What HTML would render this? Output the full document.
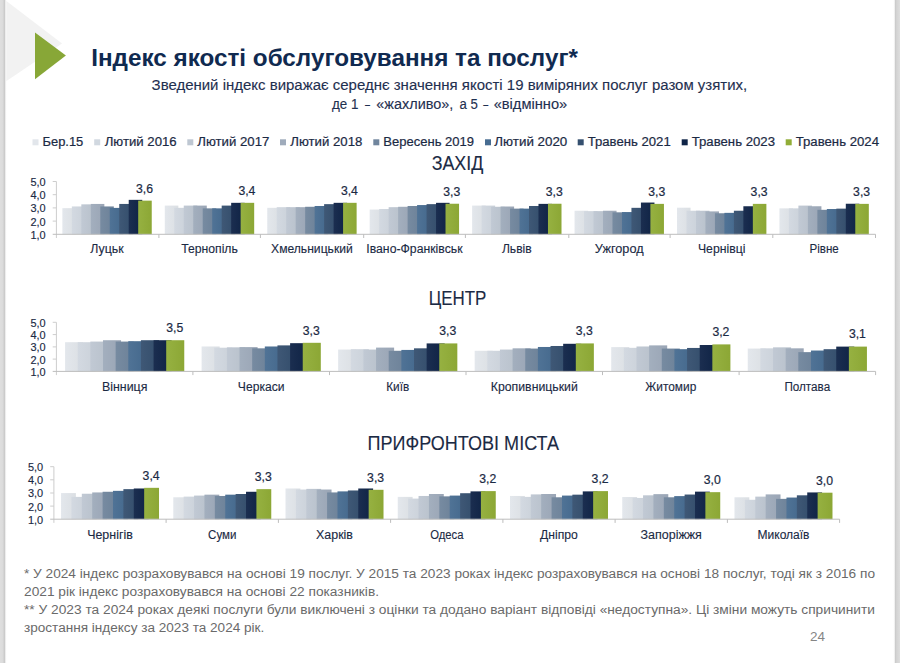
<!DOCTYPE html>
<html lang="uk"><head><meta charset="utf-8"><title>Індекс якості обслуговування та послуг</title>
<style>
html,body{margin:0;padding:0;background:#fff;}
body{width:900px;height:663px;overflow:hidden;position:relative;font-family:"Liberation Sans", sans-serif;}
svg{position:absolute;left:0;top:0;display:block;font-family:"Liberation Sans", sans-serif;}
</style></head><body>
<svg width="900" height="663" viewBox="0 0 900 663">
<defs><linearGradient id="g0" x1="0" x2="1" y1="0" y2="0"><stop offset="0" stop-color="#e3e7ec"/><stop offset="1" stop-color="#dbdfe3"/></linearGradient><linearGradient id="g1" x1="0" x2="1" y1="0" y2="0"><stop offset="0" stop-color="#d3d9e1"/><stop offset="1" stop-color="#cad1d9"/></linearGradient><linearGradient id="g2" x1="0" x2="1" y1="0" y2="0"><stop offset="0" stop-color="#c1c9d4"/><stop offset="1" stop-color="#b8c1cb"/></linearGradient><linearGradient id="g3" x1="0" x2="1" y1="0" y2="0"><stop offset="0" stop-color="#a3afbe"/><stop offset="1" stop-color="#9aa5b5"/></linearGradient><linearGradient id="g4" x1="0" x2="1" y1="0" y2="0"><stop offset="0" stop-color="#778ba1"/><stop offset="1" stop-color="#6c8198"/></linearGradient><linearGradient id="g5" x1="0" x2="1" y1="0" y2="0"><stop offset="0" stop-color="#507396"/><stop offset="1" stop-color="#44688c"/></linearGradient><linearGradient id="g6" x1="0" x2="1" y1="0" y2="0"><stop offset="0" stop-color="#3f5876"/><stop offset="1" stop-color="#334d6b"/></linearGradient><linearGradient id="g7" x1="0" x2="1" y1="0" y2="0"><stop offset="0" stop-color="#1b2e50"/><stop offset="1" stop-color="#0e2244"/></linearGradient><linearGradient id="g8" x1="0" x2="1" y1="0" y2="0"><stop offset="0" stop-color="#96b141"/><stop offset="1" stop-color="#8ca735"/></linearGradient>
<linearGradient id="ls" x1="0" x2="1"><stop offset="0" stop-color="#dfdfdf"/><stop offset="0.4" stop-color="#dbdbdb"/><stop offset="0.62" stop-color="#cbcbcb"/><stop offset="0.72" stop-color="#cccccc"/><stop offset="0.8" stop-color="#f4f4f4"/><stop offset="1" stop-color="#ffffff" stop-opacity="0"/></linearGradient>
<linearGradient id="rs" x1="0" x2="1"><stop offset="0" stop-color="#ffffff" stop-opacity="0"/><stop offset="0.22" stop-color="#f0f0f0"/><stop offset="0.3" stop-color="#c9c9c9"/><stop offset="0.5" stop-color="#d3d3d3"/><stop offset="1" stop-color="#dedede"/></linearGradient>
</defs>
<rect width="900" height="663" fill="#ffffff"/>
<polygon points="5,0 62,43.5 5,82" fill="#f2f2f2"/>
<rect x="0" y="0" width="7" height="663" fill="url(#ls)"/>
<rect x="893" y="0" width="7" height="663" fill="url(#rs)"/>
<polygon points="35,32.4 65.9,55.5 35,79.2" fill="#88a737"/>
<g>
<text x="91.2" y="65.6" font-size="23.5" fill="#102a50" text-anchor="start" font-weight="bold" textLength="486.8" lengthAdjust="spacingAndGlyphs">Індекс якості обслуговування та послуг*</text>
<text x="151.6" y="89.6" font-size="14" fill="#1f3050" text-anchor="start" font-weight="normal" textLength="595.6" lengthAdjust="spacingAndGlyphs" stroke="#1f3050" stroke-width="0.12">Зведений індекс виражає середнє значення якості 19 виміряних послуг разом узятих,</text>
<text y="109.2" font-size="14" fill="#1f3050" stroke="#1f3050" stroke-width="0.12" xml:space="preserve"><tspan x="332.0" textLength="26.4" lengthAdjust="spacingAndGlyphs">де 1</tspan><tspan> </tspan><tspan x="365.0" textLength="5.0" lengthAdjust="spacingAndGlyphs">–</tspan><tspan> </tspan><tspan x="376.3" textLength="77.0" lengthAdjust="spacingAndGlyphs">«жахливо»,</tspan><tspan> </tspan><tspan x="459.5" textLength="18.3" lengthAdjust="spacingAndGlyphs">а 5</tspan><tspan> </tspan><tspan x="483.3" textLength="5.0" lengthAdjust="spacingAndGlyphs">–</tspan><tspan> </tspan><tspan x="493.7" textLength="73.5" lengthAdjust="spacingAndGlyphs">«відмінно»</tspan></text>
<text x="431.7" y="169.6" font-size="19.6" fill="#1b2a44" text-anchor="start" font-weight="normal" textLength="51.6" lengthAdjust="spacingAndGlyphs" stroke="#1b2a44" stroke-width="0.12">ЗАХІД</text>
<text x="428.7" y="305.0" font-size="19.6" fill="#1b2a44" text-anchor="start" font-weight="normal" textLength="57.7" lengthAdjust="spacingAndGlyphs" stroke="#1b2a44" stroke-width="0.12">ЦЕНТР</text>
<text x="367.6" y="450.1" font-size="19.6" fill="#1b2a44" text-anchor="start" font-weight="normal" textLength="191.4" lengthAdjust="spacingAndGlyphs" stroke="#1b2a44" stroke-width="0.12">ПРИФРОНТОВІ МІСТА</text>
<text x="24.0" y="578.3" font-size="12" fill="#6a6a6a" text-anchor="start" font-weight="normal" textLength="851.0" lengthAdjust="spacingAndGlyphs">* У 2024 індекс розраховувався на основі 19 послуг. У 2015 та 2023 роках індекс розраховувався на основі 18 послуг, тоді як з 2016 по</text>
<text x="24.0" y="596.0" font-size="12" fill="#6a6a6a" text-anchor="start" font-weight="normal" textLength="355.0" lengthAdjust="spacingAndGlyphs">2021 рік індекс розраховувався на основі 22 показників.</text>
<text x="24.0" y="614.0" font-size="12" fill="#6a6a6a" text-anchor="start" font-weight="normal" textLength="851.0" lengthAdjust="spacingAndGlyphs">** У 2023 та 2024 роках деякі послуги були виключені з оцінки та додано варіант відповіді «недоступна». Ці зміни можуть спричинити</text>
<text x="24.0" y="631.7" font-size="12" fill="#6a6a6a" text-anchor="start" font-weight="normal" textLength="240.3" lengthAdjust="spacingAndGlyphs">зростання індексу за 2023 та 2024 рік.</text>
<text x="810.0" y="641.0" font-size="13" fill="#858585" text-anchor="start" font-weight="normal" textLength="15.0" lengthAdjust="spacingAndGlyphs">24</text>
</g>
<g>
<rect x="32.5" y="139.3" width="6" height="6" fill="#e2e6eb"/>
<text x="42.5" y="146.4" font-size="12.3" fill="#1b2a44" text-anchor="start" font-weight="normal" textLength="40.8" lengthAdjust="spacingAndGlyphs" stroke="#1b2a44" stroke-width="0.2">Бер.15</text>
<rect x="94.2" y="139.3" width="6" height="6" fill="#d1d8e0"/>
<text x="104.7" y="146.4" font-size="12.3" fill="#1b2a44" text-anchor="start" font-weight="normal" textLength="72.0" lengthAdjust="spacingAndGlyphs" stroke="#1b2a44" stroke-width="0.2">Лютий 2016</text>
<rect x="187.3" y="139.3" width="6" height="6" fill="#bec7d2"/>
<text x="197.3" y="146.4" font-size="12.3" fill="#1b2a44" text-anchor="start" font-weight="normal" textLength="72.0" lengthAdjust="spacingAndGlyphs" stroke="#1b2a44" stroke-width="0.2">Лютий 2017</text>
<rect x="280.0" y="139.3" width="6" height="6" fill="#9fabbb"/>
<text x="290.3" y="146.4" font-size="12.3" fill="#1b2a44" text-anchor="start" font-weight="normal" textLength="72.0" lengthAdjust="spacingAndGlyphs" stroke="#1b2a44" stroke-width="0.2">Лютий 2018</text>
<rect x="373.3" y="139.3" width="6" height="6" fill="#70859d"/>
<text x="383.3" y="146.4" font-size="12.3" fill="#1b2a44" text-anchor="start" font-weight="normal" textLength="90.7" lengthAdjust="spacingAndGlyphs" stroke="#1b2a44" stroke-width="0.2">Вересень 2019</text>
<rect x="485.0" y="139.3" width="6" height="6" fill="#476c91"/>
<text x="494.3" y="146.4" font-size="12.3" fill="#1b2a44" text-anchor="start" font-weight="normal" textLength="73.0" lengthAdjust="spacingAndGlyphs" stroke="#1b2a44" stroke-width="0.2">Лютий 2020</text>
<rect x="577.7" y="139.3" width="6" height="6" fill="#35506f"/>
<text x="587.7" y="146.4" font-size="12.3" fill="#1b2a44" text-anchor="start" font-weight="normal" textLength="83.0" lengthAdjust="spacingAndGlyphs" stroke="#1b2a44" stroke-width="0.2">Травень 2021</text>
<rect x="681.7" y="139.3" width="6" height="6" fill="#0f2447"/>
<text x="691.7" y="146.4" font-size="12.3" fill="#1b2a44" text-anchor="start" font-weight="normal" textLength="83.3" lengthAdjust="spacingAndGlyphs" stroke="#1b2a44" stroke-width="0.2">Травень 2023</text>
<rect x="785.7" y="139.3" width="6" height="6" fill="#91ad37"/>
<text x="795.7" y="146.4" font-size="12.3" fill="#1b2a44" text-anchor="start" font-weight="normal" textLength="83.3" lengthAdjust="spacingAndGlyphs" stroke="#1b2a44" stroke-width="0.2">Травень 2024</text>
</g>
<g>
<rect x="62.36" y="208.16" width="13.54" height="26.14" fill="url(#g0)"/>
<rect x="71.84" y="206.45" width="13.54" height="27.85" fill="url(#g1)"/>
<rect x="81.32" y="204.34" width="13.54" height="29.96" fill="url(#g2)"/>
<rect x="90.80" y="203.94" width="13.54" height="30.36" fill="url(#g3)"/>
<rect x="100.28" y="206.45" width="13.54" height="27.85" fill="url(#g4)"/>
<rect x="109.76" y="207.90" width="13.54" height="26.40" fill="url(#g5)"/>
<rect x="119.24" y="203.94" width="13.54" height="30.36" fill="url(#g6)"/>
<rect x="128.72" y="199.85" width="13.54" height="34.45" fill="url(#g7)"/>
<rect x="138.20" y="200.64" width="13.54" height="33.66" fill="url(#g8)"/>
<text x="144.5" y="193.0" font-size="12" fill="#1b2a44" text-anchor="middle" font-weight="normal" textLength="17.0" lengthAdjust="spacingAndGlyphs" stroke="#1b2a44" stroke-width="0.2">3,6</text>
<text x="107.0" y="253.3" font-size="12" fill="#1b2a44" text-anchor="middle" font-weight="normal" textLength="33.3" lengthAdjust="spacingAndGlyphs" stroke="#1b2a44" stroke-width="0.12">Луцьк</text>
<rect x="164.80" y="205.59" width="13.54" height="28.71" fill="url(#g0)"/>
<rect x="174.28" y="207.83" width="13.54" height="26.47" fill="url(#g1)"/>
<rect x="183.76" y="205.59" width="13.54" height="28.71" fill="url(#g2)"/>
<rect x="193.24" y="205.59" width="13.54" height="28.71" fill="url(#g3)"/>
<rect x="202.72" y="208.36" width="13.54" height="25.94" fill="url(#g4)"/>
<rect x="212.20" y="208.36" width="13.54" height="25.94" fill="url(#g5)"/>
<rect x="221.68" y="205.59" width="13.54" height="28.71" fill="url(#g6)"/>
<rect x="231.16" y="202.82" width="13.54" height="31.48" fill="url(#g7)"/>
<rect x="240.64" y="202.82" width="13.54" height="31.48" fill="url(#g8)"/>
<text x="246.9" y="195.2" font-size="12" fill="#1b2a44" text-anchor="middle" font-weight="normal" textLength="17.0" lengthAdjust="spacingAndGlyphs" stroke="#1b2a44" stroke-width="0.2">3,4</text>
<text x="209.5" y="253.3" font-size="12" fill="#1b2a44" text-anchor="middle" font-weight="normal" textLength="56.7" lengthAdjust="spacingAndGlyphs" stroke="#1b2a44" stroke-width="0.12">Тернопіль</text>
<rect x="267.24" y="207.83" width="13.54" height="26.47" fill="url(#g0)"/>
<rect x="276.72" y="207.17" width="13.54" height="27.13" fill="url(#g1)"/>
<rect x="286.20" y="207.17" width="13.54" height="27.13" fill="url(#g2)"/>
<rect x="295.68" y="207.17" width="13.54" height="27.13" fill="url(#g3)"/>
<rect x="305.16" y="206.78" width="13.54" height="27.52" fill="url(#g4)"/>
<rect x="314.64" y="205.99" width="13.54" height="28.31" fill="url(#g5)"/>
<rect x="324.12" y="204.14" width="13.54" height="30.16" fill="url(#g6)"/>
<rect x="333.60" y="202.82" width="13.54" height="31.48" fill="url(#g7)"/>
<rect x="343.08" y="202.82" width="13.54" height="31.48" fill="url(#g8)"/>
<text x="349.4" y="195.2" font-size="12" fill="#1b2a44" text-anchor="middle" font-weight="normal" textLength="17.0" lengthAdjust="spacingAndGlyphs" stroke="#1b2a44" stroke-width="0.2">3,4</text>
<text x="311.9" y="253.3" font-size="12" fill="#1b2a44" text-anchor="middle" font-weight="normal" textLength="81.7" lengthAdjust="spacingAndGlyphs" stroke="#1b2a44" stroke-width="0.12">Хмельницький</text>
<rect x="369.68" y="209.55" width="13.54" height="24.75" fill="url(#g0)"/>
<rect x="379.16" y="209.02" width="13.54" height="25.28" fill="url(#g1)"/>
<rect x="388.64" y="207.17" width="13.54" height="27.13" fill="url(#g2)"/>
<rect x="398.12" y="206.78" width="13.54" height="27.52" fill="url(#g3)"/>
<rect x="407.60" y="205.99" width="13.54" height="28.31" fill="url(#g4)"/>
<rect x="417.08" y="205.06" width="13.54" height="29.24" fill="url(#g5)"/>
<rect x="426.56" y="204.14" width="13.54" height="30.16" fill="url(#g6)"/>
<rect x="436.04" y="202.82" width="13.54" height="31.48" fill="url(#g7)"/>
<rect x="445.52" y="203.74" width="13.54" height="30.56" fill="url(#g8)"/>
<text x="451.8" y="196.1" font-size="12" fill="#1b2a44" text-anchor="middle" font-weight="normal" textLength="17.0" lengthAdjust="spacingAndGlyphs" stroke="#1b2a44" stroke-width="0.2">3,3</text>
<text x="414.4" y="253.3" font-size="12" fill="#1b2a44" text-anchor="middle" font-weight="normal" textLength="96.2" lengthAdjust="spacingAndGlyphs" stroke="#1b2a44" stroke-width="0.12">Івано-Франківськ</text>
<rect x="472.12" y="205.59" width="13.54" height="28.71" fill="url(#g0)"/>
<rect x="481.60" y="205.59" width="13.54" height="28.71" fill="url(#g1)"/>
<rect x="491.08" y="206.78" width="13.54" height="27.52" fill="url(#g2)"/>
<rect x="500.56" y="206.51" width="13.54" height="27.79" fill="url(#g3)"/>
<rect x="510.04" y="208.63" width="13.54" height="25.67" fill="url(#g4)"/>
<rect x="519.52" y="208.63" width="13.54" height="25.67" fill="url(#g5)"/>
<rect x="529.00" y="205.99" width="13.54" height="28.31" fill="url(#g6)"/>
<rect x="538.48" y="203.87" width="13.54" height="30.43" fill="url(#g7)"/>
<rect x="547.96" y="203.74" width="13.54" height="30.56" fill="url(#g8)"/>
<text x="554.2" y="196.1" font-size="12" fill="#1b2a44" text-anchor="middle" font-weight="normal" textLength="17.0" lengthAdjust="spacingAndGlyphs" stroke="#1b2a44" stroke-width="0.2">3,3</text>
<text x="516.8" y="253.3" font-size="12" fill="#1b2a44" text-anchor="middle" font-weight="normal" textLength="29.8" lengthAdjust="spacingAndGlyphs" stroke="#1b2a44" stroke-width="0.12">Львів</text>
<rect x="574.56" y="210.74" width="13.54" height="23.56" fill="url(#g0)"/>
<rect x="584.04" y="211.13" width="13.54" height="23.17" fill="url(#g1)"/>
<rect x="593.52" y="211.13" width="13.54" height="23.17" fill="url(#g2)"/>
<rect x="603.00" y="210.74" width="13.54" height="23.56" fill="url(#g3)"/>
<rect x="612.48" y="212.32" width="13.54" height="21.98" fill="url(#g4)"/>
<rect x="621.96" y="212.06" width="13.54" height="22.24" fill="url(#g5)"/>
<rect x="631.44" y="207.83" width="13.54" height="26.47" fill="url(#g6)"/>
<rect x="640.92" y="202.55" width="13.54" height="31.75" fill="url(#g7)"/>
<rect x="650.40" y="203.87" width="13.54" height="30.43" fill="url(#g8)"/>
<text x="656.7" y="196.3" font-size="12" fill="#1b2a44" text-anchor="middle" font-weight="normal" textLength="17.0" lengthAdjust="spacingAndGlyphs" stroke="#1b2a44" stroke-width="0.2">3,3</text>
<text x="619.2" y="253.3" font-size="12" fill="#1b2a44" text-anchor="middle" font-weight="normal" textLength="48.8" lengthAdjust="spacingAndGlyphs" stroke="#1b2a44" stroke-width="0.12">Ужгород</text>
<rect x="677.00" y="207.70" width="13.54" height="26.60" fill="url(#g0)"/>
<rect x="686.48" y="210.74" width="13.54" height="23.56" fill="url(#g1)"/>
<rect x="695.96" y="210.74" width="13.54" height="23.56" fill="url(#g2)"/>
<rect x="705.44" y="211.40" width="13.54" height="22.90" fill="url(#g3)"/>
<rect x="714.92" y="213.25" width="13.54" height="21.05" fill="url(#g4)"/>
<rect x="724.40" y="212.85" width="13.54" height="21.45" fill="url(#g5)"/>
<rect x="733.88" y="210.74" width="13.54" height="23.56" fill="url(#g6)"/>
<rect x="743.36" y="206.25" width="13.54" height="28.05" fill="url(#g7)"/>
<rect x="752.84" y="203.87" width="13.54" height="30.43" fill="url(#g8)"/>
<text x="759.1" y="196.3" font-size="12" fill="#1b2a44" text-anchor="middle" font-weight="normal" textLength="17.0" lengthAdjust="spacingAndGlyphs" stroke="#1b2a44" stroke-width="0.2">3,3</text>
<text x="721.7" y="253.3" font-size="12" fill="#1b2a44" text-anchor="middle" font-weight="normal" textLength="47.5" lengthAdjust="spacingAndGlyphs" stroke="#1b2a44" stroke-width="0.12">Чернівці</text>
<rect x="779.44" y="208.36" width="13.54" height="25.94" fill="url(#g0)"/>
<rect x="788.92" y="208.36" width="13.54" height="25.94" fill="url(#g1)"/>
<rect x="798.40" y="205.59" width="13.54" height="28.71" fill="url(#g2)"/>
<rect x="807.88" y="206.25" width="13.54" height="28.05" fill="url(#g3)"/>
<rect x="817.36" y="209.81" width="13.54" height="24.49" fill="url(#g4)"/>
<rect x="826.84" y="209.02" width="13.54" height="25.28" fill="url(#g5)"/>
<rect x="836.32" y="208.63" width="13.54" height="25.67" fill="url(#g6)"/>
<rect x="845.80" y="203.74" width="13.54" height="30.56" fill="url(#g7)"/>
<rect x="855.28" y="203.87" width="13.54" height="30.43" fill="url(#g8)"/>
<text x="861.6" y="196.3" font-size="12" fill="#1b2a44" text-anchor="middle" font-weight="normal" textLength="17.0" lengthAdjust="spacingAndGlyphs" stroke="#1b2a44" stroke-width="0.2">3,3</text>
<text x="824.1" y="253.3" font-size="12" fill="#1b2a44" text-anchor="middle" font-weight="normal" textLength="29.3" lengthAdjust="spacingAndGlyphs" stroke="#1b2a44" stroke-width="0.12">Рівне</text>
<path d="M56.4 181.5V238.0M52.7 181.5H56.4M52.7 194.7H56.4M52.7 207.9H56.4M52.7 221.1H56.4" stroke="#cdcdcd" stroke-width="1" fill="none"/>
<path d="M52.7 234.3H875.5M158.9 234.3v3.7M260.4 234.3v3.7M363.7 234.3v3.7M465.4 234.3v3.7M568.8 234.3v3.7M670.1 234.3v3.7M772.8 234.3v3.7M875.5 234.3v3.7" stroke="#bdbdbd" stroke-width="1" fill="none"/>
<text x="45.7" y="185.9" font-size="11" fill="#1b2a44" text-anchor="end" font-weight="normal" textLength="15.2" lengthAdjust="spacingAndGlyphs" stroke="#1b2a44" stroke-width="0.15">5,0</text>
<text x="45.7" y="199.1" font-size="11" fill="#1b2a44" text-anchor="end" font-weight="normal" textLength="15.2" lengthAdjust="spacingAndGlyphs" stroke="#1b2a44" stroke-width="0.15">4,0</text>
<text x="45.7" y="212.3" font-size="11" fill="#1b2a44" text-anchor="end" font-weight="normal" textLength="15.2" lengthAdjust="spacingAndGlyphs" stroke="#1b2a44" stroke-width="0.15">3,0</text>
<text x="45.7" y="225.5" font-size="11" fill="#1b2a44" text-anchor="end" font-weight="normal" textLength="15.2" lengthAdjust="spacingAndGlyphs" stroke="#1b2a44" stroke-width="0.15">2,0</text>
<text x="45.7" y="238.7" font-size="11" fill="#1b2a44" text-anchor="end" font-weight="normal" textLength="15.2" lengthAdjust="spacingAndGlyphs" stroke="#1b2a44" stroke-width="0.15">1,0</text>
<rect x="65.07" y="342.19" width="18.06" height="29.21" fill="url(#g0)"/>
<rect x="77.71" y="342.19" width="18.06" height="29.21" fill="url(#g1)"/>
<rect x="90.35" y="341.57" width="18.06" height="29.83" fill="url(#g2)"/>
<rect x="102.99" y="340.22" width="18.06" height="31.18" fill="url(#g3)"/>
<rect x="115.64" y="341.57" width="18.06" height="29.83" fill="url(#g4)"/>
<rect x="128.28" y="341.20" width="18.06" height="30.20" fill="url(#g5)"/>
<rect x="140.92" y="340.22" width="18.06" height="31.18" fill="url(#g6)"/>
<rect x="153.56" y="340.22" width="18.06" height="31.18" fill="url(#g7)"/>
<rect x="166.20" y="340.22" width="18.06" height="31.18" fill="url(#g8)"/>
<text x="174.7" y="332.0" font-size="12" fill="#1b2a44" text-anchor="middle" font-weight="normal" textLength="17.0" lengthAdjust="spacingAndGlyphs" stroke="#1b2a44" stroke-width="0.2">3,5</text>
<text x="124.7" y="391.1" font-size="12" fill="#1b2a44" text-anchor="middle" font-weight="normal" textLength="45.4" lengthAdjust="spacingAndGlyphs" stroke="#1b2a44" stroke-width="0.12">Вінниця</text>
<rect x="201.60" y="346.48" width="18.06" height="24.92" fill="url(#g0)"/>
<rect x="214.24" y="347.71" width="18.06" height="23.69" fill="url(#g1)"/>
<rect x="226.89" y="347.34" width="18.06" height="24.06" fill="url(#g2)"/>
<rect x="239.53" y="347.10" width="18.06" height="24.30" fill="url(#g3)"/>
<rect x="252.17" y="348.32" width="18.06" height="23.08" fill="url(#g4)"/>
<rect x="264.81" y="346.48" width="18.06" height="24.92" fill="url(#g5)"/>
<rect x="277.45" y="345.38" width="18.06" height="26.02" fill="url(#g6)"/>
<rect x="290.10" y="343.17" width="18.06" height="28.23" fill="url(#g7)"/>
<rect x="302.74" y="342.80" width="18.06" height="28.60" fill="url(#g8)"/>
<text x="311.3" y="334.6" font-size="12" fill="#1b2a44" text-anchor="middle" font-weight="normal" textLength="17.0" lengthAdjust="spacingAndGlyphs" stroke="#1b2a44" stroke-width="0.2">3,3</text>
<text x="261.2" y="391.1" font-size="12" fill="#1b2a44" text-anchor="middle" font-weight="normal" textLength="46.7" lengthAdjust="spacingAndGlyphs" stroke="#1b2a44" stroke-width="0.12">Черкаси</text>
<rect x="338.14" y="349.55" width="18.06" height="21.85" fill="url(#g0)"/>
<rect x="350.78" y="349.18" width="18.06" height="22.22" fill="url(#g1)"/>
<rect x="363.42" y="349.55" width="18.06" height="21.85" fill="url(#g2)"/>
<rect x="376.06" y="347.59" width="18.06" height="23.81" fill="url(#g3)"/>
<rect x="388.70" y="350.78" width="18.06" height="20.62" fill="url(#g4)"/>
<rect x="401.35" y="349.92" width="18.06" height="21.48" fill="url(#g5)"/>
<rect x="413.99" y="348.32" width="18.06" height="23.08" fill="url(#g6)"/>
<rect x="426.63" y="343.41" width="18.06" height="27.99" fill="url(#g7)"/>
<rect x="439.27" y="343.41" width="18.06" height="27.99" fill="url(#g8)"/>
<text x="447.8" y="335.2" font-size="12" fill="#1b2a44" text-anchor="middle" font-weight="normal" textLength="17.0" lengthAdjust="spacingAndGlyphs" stroke="#1b2a44" stroke-width="0.2">3,3</text>
<text x="397.7" y="391.1" font-size="12" fill="#1b2a44" text-anchor="middle" font-weight="normal" textLength="23.0" lengthAdjust="spacingAndGlyphs" stroke="#1b2a44" stroke-width="0.12">Київ</text>
<rect x="474.67" y="350.78" width="18.06" height="20.62" fill="url(#g0)"/>
<rect x="487.31" y="350.78" width="18.06" height="20.62" fill="url(#g1)"/>
<rect x="499.95" y="349.55" width="18.06" height="21.85" fill="url(#g2)"/>
<rect x="512.59" y="348.32" width="18.06" height="23.08" fill="url(#g3)"/>
<rect x="525.24" y="348.57" width="18.06" height="22.83" fill="url(#g4)"/>
<rect x="537.88" y="346.97" width="18.06" height="24.43" fill="url(#g5)"/>
<rect x="550.52" y="345.99" width="18.06" height="25.41" fill="url(#g6)"/>
<rect x="563.16" y="343.78" width="18.06" height="27.62" fill="url(#g7)"/>
<rect x="575.80" y="343.41" width="18.06" height="27.99" fill="url(#g8)"/>
<text x="584.3" y="335.2" font-size="12" fill="#1b2a44" text-anchor="middle" font-weight="normal" textLength="17.0" lengthAdjust="spacingAndGlyphs" stroke="#1b2a44" stroke-width="0.2">3,3</text>
<text x="534.3" y="391.1" font-size="12" fill="#1b2a44" text-anchor="middle" font-weight="normal" textLength="87.0" lengthAdjust="spacingAndGlyphs" stroke="#1b2a44" stroke-width="0.12">Кропивницький</text>
<rect x="611.20" y="347.10" width="18.06" height="24.30" fill="url(#g0)"/>
<rect x="623.84" y="347.83" width="18.06" height="23.57" fill="url(#g1)"/>
<rect x="636.49" y="346.48" width="18.06" height="24.92" fill="url(#g2)"/>
<rect x="649.13" y="345.38" width="18.06" height="26.02" fill="url(#g3)"/>
<rect x="661.77" y="348.57" width="18.06" height="22.83" fill="url(#g4)"/>
<rect x="674.41" y="349.18" width="18.06" height="22.22" fill="url(#g5)"/>
<rect x="687.05" y="347.95" width="18.06" height="23.45" fill="url(#g6)"/>
<rect x="699.70" y="345.01" width="18.06" height="26.39" fill="url(#g7)"/>
<rect x="712.34" y="344.39" width="18.06" height="27.00" fill="url(#g8)"/>
<text x="720.9" y="336.2" font-size="12" fill="#1b2a44" text-anchor="middle" font-weight="normal" textLength="17.0" lengthAdjust="spacingAndGlyphs" stroke="#1b2a44" stroke-width="0.2">3,2</text>
<text x="670.8" y="391.1" font-size="12" fill="#1b2a44" text-anchor="middle" font-weight="normal" textLength="51.0" lengthAdjust="spacingAndGlyphs" stroke="#1b2a44" stroke-width="0.12">Житомир</text>
<rect x="747.74" y="348.57" width="18.06" height="22.83" fill="url(#g0)"/>
<rect x="760.38" y="348.32" width="18.06" height="23.08" fill="url(#g1)"/>
<rect x="773.02" y="347.34" width="18.06" height="24.06" fill="url(#g2)"/>
<rect x="785.66" y="348.32" width="18.06" height="23.08" fill="url(#g3)"/>
<rect x="798.30" y="352.13" width="18.06" height="19.27" fill="url(#g4)"/>
<rect x="810.95" y="350.53" width="18.06" height="20.87" fill="url(#g5)"/>
<rect x="823.59" y="349.18" width="18.06" height="22.22" fill="url(#g6)"/>
<rect x="836.23" y="346.60" width="18.06" height="24.80" fill="url(#g7)"/>
<rect x="848.87" y="346.60" width="18.06" height="24.80" fill="url(#g8)"/>
<text x="857.4" y="338.4" font-size="12" fill="#1b2a44" text-anchor="middle" font-weight="normal" textLength="17.0" lengthAdjust="spacingAndGlyphs" stroke="#1b2a44" stroke-width="0.2">3,1</text>
<text x="807.3" y="391.1" font-size="12" fill="#1b2a44" text-anchor="middle" font-weight="normal" textLength="45.8" lengthAdjust="spacingAndGlyphs" stroke="#1b2a44" stroke-width="0.12">Полтава</text>
<path d="M56.4 322.3V375.1M52.7 322.3H56.4M52.7 334.6H56.4M52.7 346.9H56.4M52.7 359.1H56.4" stroke="#cdcdcd" stroke-width="1" fill="none"/>
<path d="M52.7 371.4H875.6M192.9 371.4v3.7M329.5 371.4v3.7M466.0 371.4v3.7M602.5 371.4v3.7M739.1 371.4v3.7M875.6 371.4v3.7" stroke="#bdbdbd" stroke-width="1" fill="none"/>
<text x="45.7" y="326.7" font-size="11" fill="#1b2a44" text-anchor="end" font-weight="normal" textLength="15.2" lengthAdjust="spacingAndGlyphs" stroke="#1b2a44" stroke-width="0.15">5,0</text>
<text x="45.7" y="339.0" font-size="11" fill="#1b2a44" text-anchor="end" font-weight="normal" textLength="15.2" lengthAdjust="spacingAndGlyphs" stroke="#1b2a44" stroke-width="0.15">4,0</text>
<text x="45.7" y="351.2" font-size="11" fill="#1b2a44" text-anchor="end" font-weight="normal" textLength="15.2" lengthAdjust="spacingAndGlyphs" stroke="#1b2a44" stroke-width="0.15">3,0</text>
<text x="45.7" y="363.5" font-size="11" fill="#1b2a44" text-anchor="end" font-weight="normal" textLength="15.2" lengthAdjust="spacingAndGlyphs" stroke="#1b2a44" stroke-width="0.15">2,0</text>
<text x="45.7" y="375.8" font-size="11" fill="#1b2a44" text-anchor="end" font-weight="normal" textLength="15.2" lengthAdjust="spacingAndGlyphs" stroke="#1b2a44" stroke-width="0.15">1,0</text>
<rect x="61.03" y="493.08" width="14.85" height="26.12" fill="url(#g0)"/>
<rect x="71.42" y="496.89" width="14.85" height="22.31" fill="url(#g1)"/>
<rect x="81.81" y="493.74" width="14.85" height="25.46" fill="url(#g2)"/>
<rect x="92.21" y="492.43" width="14.85" height="26.78" fill="url(#g3)"/>
<rect x="102.60" y="491.77" width="14.85" height="27.43" fill="url(#g4)"/>
<rect x="112.99" y="490.85" width="14.85" height="28.35" fill="url(#g5)"/>
<rect x="123.38" y="489.14" width="14.85" height="30.06" fill="url(#g6)"/>
<rect x="133.78" y="488.49" width="14.85" height="30.71" fill="url(#g7)"/>
<rect x="144.17" y="487.83" width="14.85" height="31.37" fill="url(#g8)"/>
<text x="151.1" y="479.9" font-size="12" fill="#1b2a44" text-anchor="middle" font-weight="normal" textLength="17.0" lengthAdjust="spacingAndGlyphs" stroke="#1b2a44" stroke-width="0.2">3,4</text>
<text x="110.0" y="538.7" font-size="12" fill="#1b2a44" text-anchor="middle" font-weight="normal" textLength="45.7" lengthAdjust="spacingAndGlyphs" stroke="#1b2a44" stroke-width="0.12">Чернігів</text>
<rect x="173.27" y="497.28" width="14.85" height="21.92" fill="url(#g0)"/>
<rect x="183.66" y="496.62" width="14.85" height="22.58" fill="url(#g1)"/>
<rect x="194.06" y="495.58" width="14.85" height="23.63" fill="url(#g2)"/>
<rect x="204.45" y="494.66" width="14.85" height="24.54" fill="url(#g3)"/>
<rect x="214.84" y="495.97" width="14.85" height="23.23" fill="url(#g4)"/>
<rect x="225.23" y="494.66" width="14.85" height="24.54" fill="url(#g5)"/>
<rect x="235.63" y="494.00" width="14.85" height="25.20" fill="url(#g6)"/>
<rect x="246.02" y="491.77" width="14.85" height="27.43" fill="url(#g7)"/>
<rect x="256.41" y="489.14" width="14.85" height="30.06" fill="url(#g8)"/>
<text x="263.3" y="481.2" font-size="12" fill="#1b2a44" text-anchor="middle" font-weight="normal" textLength="17.0" lengthAdjust="spacingAndGlyphs" stroke="#1b2a44" stroke-width="0.2">3,3</text>
<text x="222.3" y="538.7" font-size="12" fill="#1b2a44" text-anchor="middle" font-weight="normal" textLength="28.4" lengthAdjust="spacingAndGlyphs" stroke="#1b2a44" stroke-width="0.12">Суми</text>
<rect x="285.51" y="488.49" width="14.85" height="30.71" fill="url(#g0)"/>
<rect x="295.91" y="489.54" width="14.85" height="29.66" fill="url(#g1)"/>
<rect x="306.30" y="488.88" width="14.85" height="30.32" fill="url(#g2)"/>
<rect x="316.69" y="489.54" width="14.85" height="29.66" fill="url(#g3)"/>
<rect x="327.08" y="492.43" width="14.85" height="26.78" fill="url(#g4)"/>
<rect x="337.48" y="491.38" width="14.85" height="27.83" fill="url(#g5)"/>
<rect x="347.87" y="490.46" width="14.85" height="28.74" fill="url(#g6)"/>
<rect x="358.26" y="488.49" width="14.85" height="30.71" fill="url(#g7)"/>
<rect x="368.66" y="489.80" width="14.85" height="29.40" fill="url(#g8)"/>
<text x="375.6" y="481.9" font-size="12" fill="#1b2a44" text-anchor="middle" font-weight="normal" textLength="17.0" lengthAdjust="spacingAndGlyphs" stroke="#1b2a44" stroke-width="0.2">3,3</text>
<text x="334.5" y="538.7" font-size="12" fill="#1b2a44" text-anchor="middle" font-weight="normal" textLength="36.9" lengthAdjust="spacingAndGlyphs" stroke="#1b2a44" stroke-width="0.12">Харків</text>
<rect x="397.76" y="496.89" width="14.85" height="22.31" fill="url(#g0)"/>
<rect x="408.15" y="498.59" width="14.85" height="20.61" fill="url(#g1)"/>
<rect x="418.54" y="495.97" width="14.85" height="23.23" fill="url(#g2)"/>
<rect x="428.93" y="494.00" width="14.85" height="25.20" fill="url(#g3)"/>
<rect x="439.33" y="496.36" width="14.85" height="22.84" fill="url(#g4)"/>
<rect x="449.72" y="495.58" width="14.85" height="23.63" fill="url(#g5)"/>
<rect x="460.11" y="493.21" width="14.85" height="25.99" fill="url(#g6)"/>
<rect x="470.51" y="491.38" width="14.85" height="27.83" fill="url(#g7)"/>
<rect x="480.90" y="491.11" width="14.85" height="28.09" fill="url(#g8)"/>
<text x="487.8" y="483.2" font-size="12" fill="#1b2a44" text-anchor="middle" font-weight="normal" textLength="17.0" lengthAdjust="spacingAndGlyphs" stroke="#1b2a44" stroke-width="0.2">3,2</text>
<text x="446.8" y="538.7" font-size="12" fill="#1b2a44" text-anchor="middle" font-weight="normal" textLength="33.3" lengthAdjust="spacingAndGlyphs" stroke="#1b2a44" stroke-width="0.12">Одеса</text>
<rect x="510.00" y="495.97" width="14.85" height="23.23" fill="url(#g0)"/>
<rect x="520.39" y="496.89" width="14.85" height="22.31" fill="url(#g1)"/>
<rect x="530.78" y="494.39" width="14.85" height="24.81" fill="url(#g2)"/>
<rect x="541.18" y="494.00" width="14.85" height="25.20" fill="url(#g3)"/>
<rect x="551.57" y="497.28" width="14.85" height="21.92" fill="url(#g4)"/>
<rect x="561.96" y="495.58" width="14.85" height="23.63" fill="url(#g5)"/>
<rect x="572.36" y="494.66" width="14.85" height="24.54" fill="url(#g6)"/>
<rect x="582.75" y="491.38" width="14.85" height="27.83" fill="url(#g7)"/>
<rect x="593.14" y="491.11" width="14.85" height="28.09" fill="url(#g8)"/>
<text x="600.1" y="483.2" font-size="12" fill="#1b2a44" text-anchor="middle" font-weight="normal" textLength="17.0" lengthAdjust="spacingAndGlyphs" stroke="#1b2a44" stroke-width="0.2">3,2</text>
<text x="559.0" y="538.7" font-size="12" fill="#1b2a44" text-anchor="middle" font-weight="normal" textLength="37.8" lengthAdjust="spacingAndGlyphs" stroke="#1b2a44" stroke-width="0.12">Дніпро</text>
<rect x="622.24" y="497.02" width="14.85" height="22.18" fill="url(#g0)"/>
<rect x="632.63" y="497.94" width="14.85" height="21.26" fill="url(#g1)"/>
<rect x="643.03" y="495.31" width="14.85" height="23.89" fill="url(#g2)"/>
<rect x="653.42" y="494.13" width="14.85" height="25.07" fill="url(#g3)"/>
<rect x="663.81" y="497.28" width="14.85" height="21.92" fill="url(#g4)"/>
<rect x="674.21" y="496.10" width="14.85" height="23.10" fill="url(#g5)"/>
<rect x="684.60" y="494.53" width="14.85" height="24.68" fill="url(#g6)"/>
<rect x="694.99" y="491.64" width="14.85" height="27.56" fill="url(#g7)"/>
<rect x="705.38" y="492.16" width="14.85" height="27.04" fill="url(#g8)"/>
<text x="712.3" y="484.3" font-size="12" fill="#1b2a44" text-anchor="middle" font-weight="normal" textLength="17.0" lengthAdjust="spacingAndGlyphs" stroke="#1b2a44" stroke-width="0.2">3,0</text>
<text x="671.2" y="538.7" font-size="12" fill="#1b2a44" text-anchor="middle" font-weight="normal" textLength="61.3" lengthAdjust="spacingAndGlyphs" stroke="#1b2a44" stroke-width="0.12">Запоріжжя</text>
<rect x="734.48" y="497.28" width="14.85" height="21.92" fill="url(#g0)"/>
<rect x="744.88" y="499.78" width="14.85" height="19.43" fill="url(#g1)"/>
<rect x="755.27" y="496.62" width="14.85" height="22.58" fill="url(#g2)"/>
<rect x="765.66" y="494.39" width="14.85" height="24.81" fill="url(#g3)"/>
<rect x="776.06" y="498.86" width="14.85" height="20.34" fill="url(#g4)"/>
<rect x="786.45" y="497.54" width="14.85" height="21.66" fill="url(#g5)"/>
<rect x="796.84" y="495.31" width="14.85" height="23.89" fill="url(#g6)"/>
<rect x="807.23" y="492.43" width="14.85" height="26.78" fill="url(#g7)"/>
<rect x="817.63" y="492.69" width="14.85" height="26.51" fill="url(#g8)"/>
<text x="824.5" y="484.8" font-size="12" fill="#1b2a44" text-anchor="middle" font-weight="normal" textLength="17.0" lengthAdjust="spacingAndGlyphs" stroke="#1b2a44" stroke-width="0.2">3,0</text>
<text x="783.5" y="538.7" font-size="12" fill="#1b2a44" text-anchor="middle" font-weight="normal" textLength="52.0" lengthAdjust="spacingAndGlyphs" stroke="#1b2a44" stroke-width="0.12">Миколаїв</text>
<path d="M53.9 466.7V522.9M50.2 466.7H53.9M50.2 479.8H53.9M50.2 493.0H53.9M50.2 506.1H53.9" stroke="#cdcdcd" stroke-width="1" fill="none"/>
<path d="M50.2 519.2H839.6M166.1 519.2v3.7M278.4 519.2v3.7M390.6 519.2v3.7M502.9 519.2v3.7M615.1 519.2v3.7M727.4 519.2v3.7M839.6 519.2v3.7" stroke="#bdbdbd" stroke-width="1" fill="none"/>
<text x="43.2" y="471.1" font-size="11" fill="#1b2a44" text-anchor="end" font-weight="normal" textLength="15.2" lengthAdjust="spacingAndGlyphs" stroke="#1b2a44" stroke-width="0.15">5,0</text>
<text x="43.2" y="484.2" font-size="11" fill="#1b2a44" text-anchor="end" font-weight="normal" textLength="15.2" lengthAdjust="spacingAndGlyphs" stroke="#1b2a44" stroke-width="0.15">4,0</text>
<text x="43.2" y="497.4" font-size="11" fill="#1b2a44" text-anchor="end" font-weight="normal" textLength="15.2" lengthAdjust="spacingAndGlyphs" stroke="#1b2a44" stroke-width="0.15">3,0</text>
<text x="43.2" y="510.5" font-size="11" fill="#1b2a44" text-anchor="end" font-weight="normal" textLength="15.2" lengthAdjust="spacingAndGlyphs" stroke="#1b2a44" stroke-width="0.15">2,0</text>
<text x="43.2" y="523.6" font-size="11" fill="#1b2a44" text-anchor="end" font-weight="normal" textLength="15.2" lengthAdjust="spacingAndGlyphs" stroke="#1b2a44" stroke-width="0.15">1,0</text>
</g>
</svg>
</body></html>
